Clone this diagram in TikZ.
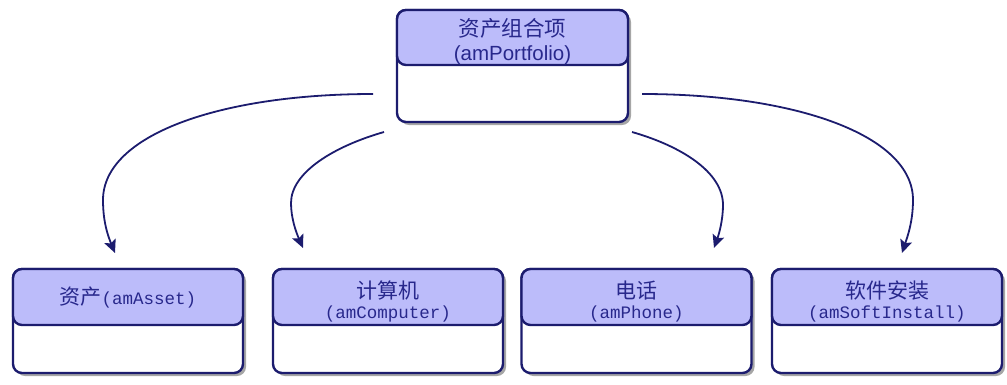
\documentclass[tikz,border=0pt]{standalone}
\usepackage{fontspec}
\setmainfont{Liberation Sans}
\setmonofont{Liberation Mono}
\newfontfamily\cjk{Noto Sans CJK SC}
\usetikzlibrary{arrows.meta,shadows}
\definecolor{navy}{RGB}{28,28,110}
\definecolor{hdr}{RGB}{188,188,250}
\definecolor{txt}{RGB}{40,40,140}
\newcommand\zhtext[1]{{\cjk\fontsize{21}{20}\selectfont #1}}
\newcommand\lattext[1]{{\ttfamily\fontsize{17.5}{20}\selectfont #1}}
\tikzset{
  box/.style={draw=navy, line width=2.4pt, rounded corners=9pt, fill=white,
    minimum width=230pt, minimum height=104pt, inner sep=0pt,
    drop shadow={shadow xshift=3pt, shadow yshift=-3pt, opacity=0.35, fill=black}},
  hdrbox/.style={draw=navy, line width=2.4pt, rounded corners=9pt, fill=hdr,
    minimum width=230pt, minimum height=56pt, inner sep=0pt, anchor=north},
  title/.style={text=txt, align=center, inner sep=0pt, font=\fontsize{20}{20}\selectfont},
  link/.style={draw=navy, line width=1.8pt, -{Stealth[length=13pt,width=12pt,inset=2.5pt]}},
}
\begin{document}
\begin{tikzpicture}[x=1pt,y=-1pt]
\useasboundingbox (0,0) rectangle (1007,384);
% top entity
\node[box, minimum width=231pt, minimum height=112pt] (top) at (512.5,66) {};
\node[hdrbox, minimum width=231pt, minimum height=55pt] (toph) at (top.north) {};
\node[title, font=\fontsize{20}{24}\selectfont] (topt) at ([yshift=-4pt]toph.center)
  {{\cjk\fontsize{21.5}{24}\selectfont 资产组合项}\\{\fontsize{20.5}{24}\selectfont(amPortfolio)}};
% bottom entities
\node[box] (asset) at (128,321) {};
\node[hdrbox] (asseth) at (asset.north) {};
\node[title] (assett) at ([yshift=-0.5pt]asseth.center) {\zhtext{资产}\lattext{(amAsset)}};
\node[box] (comp) at (388,321) {};
\node[hdrbox] (comph) at (comp.north) {};
\node[title] (compt) at ([yshift=-4.5pt]comph.center) {\zhtext{计算机}\\\lattext{(amComputer)}};
\node[box] (phone) at (636.5,321) {};
\node[hdrbox] (phoneh) at (phone.north) {};
\node[title] (phonet) at ([yshift=-4.5pt]phoneh.center) {\zhtext{电话}\\\lattext{(amPhone)}};
\node[box] (soft) at (887,321) {};
\node[hdrbox] (softh) at (soft.north) {};
\node[title] (softt) at ([yshift=-4.5pt]softh.center) {\zhtext{软件安装}\\\lattext{(amSoftInstall)}};
% connector ends
\coordinate (s1) at (373,94);
\coordinate (e1) at (115,253);
\coordinate (s2) at (384,132);
\coordinate (e2) at (303,248);
\coordinate (s3) at (632,132);
\coordinate (e3) at (714,248);
\coordinate (s4) at (642,94);
\coordinate (e4) at (902,253);
% connectors
\draw[link] (s1) .. controls (220,94) and (103,135) .. (103,200) .. controls (103,222) and (108,236) .. (e1);
\draw[link] (s2) .. controls (335,146) and (291,172) .. (291,203) .. controls (291,218) and (296,232) .. (e2);
\draw[link] (s3) .. controls (681,146) and (723,172) .. (723,205) .. controls (723,220) and (719,234) .. (e3);
\draw[link] (s4) .. controls (795,94) and (913,135) .. (913,200) .. controls (913,222) and (907,238) .. (e4);
\end{tikzpicture}
\end{document}
